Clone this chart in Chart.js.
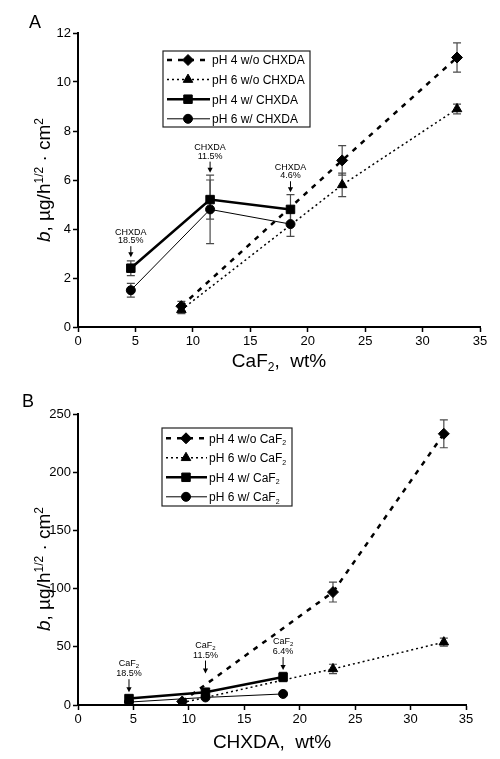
<!DOCTYPE html>
<html lang="en">
<head>
<meta charset="UTF-8">
<title>b vs CaF2 / CHXDA</title>
<script src="https://cdn.jsdelivr.net/npm/chart.js"></script>
<style>
    body { margin: 0; background: #fff; }
    .panel { width: 500px; position: relative; }
    canvas { display: block; }
</style>
</head>
<body>
<div class="panel" style="height:380px"><canvas id="chartA" width="500" height="380"></canvas></div>
<div class="panel" style="height:379px"><canvas id="chartB" width="500" height="379"></canvas></div>

<script>
// ---- panel A : b vs CaF2 wt% ----
const xWoA = [9, 23, 33];
const ph4WoA = [0.85, 6.8, 11.0];
const ph4WoAErr = [0.2, 0.6, 0.6];
const ph6WoA = [0.7, 5.8, 8.9];
const ph6WoAErr = [0.15, 0.48, 0.2];
const xWA = [4.6, 11.5, 18.5];
const ph4WA = [2.4, 5.2, 4.8];
const ph4WAErr = [0.3, 0.8, 0.6];
const ph6WA = [1.5, 4.8, 4.2];
const ph6WAErr = [0.28, 1.4, 0.5];
const labelsA = ['pH 4 w/o CHXDA', 'pH 6 w/o CHXDA', 'pH 4 w/ CHXDA', 'pH 6 w/ CHXDA'];
const noteXA = [4.6, 11.5, 18.5];
const noteTextA = ['18.5%', '11.5%', '4.6%'];

// ---- panel B : b vs CHXDA wt% ----
const xWoB = [9.4, 23, 33];
const ph4WoB = [3, 97, 233];
const ph4WoBErr = [1, 8.5, 12];
const ph6WoB = [2, 31, 54];
const ph6WoBErr = [0.8, 4, 3.5];
const xWB = [4.6, 11.5, 18.5];
const ph4WB = [5.5, 11, 24];
const ph4WBErr = [1, 1.5, 4];
const ph6WB = [2.5, 6.5, 9.5];
const ph6WBErr = [0.5, 1, 1.2];
const labelsB = ['pH 4 w/o CaF₂', 'pH 6 w/o CaF₂', 'pH 4 w/ CaF₂', 'pH 6 w/ CaF₂'];
const noteXB = [4.6, 11.5, 18.5];
const noteTextB = ['18.5%', '11.5%', '6.4%'];

const FONT = '"Liberation Sans", Arial, sans-serif';
const TITLE_FONT = '"Liberation Sans", Arial, sans-serif';

function pts(xs, ys) { return xs.map((x, i) => ({ x: x, y: ys[i] })); }

// text made of pieces: [text, kind] with kind '', 'i', 'sup', 'sub'
function pieceFont(kind, size, fam) {
    if (kind === 'i') return 'italic ' + size + 'px ' + fam;
    if (kind === 'sup' || kind === 'sub') return Math.round(size * 0.62) + 'px ' + fam;
    return size + 'px ' + fam;
}
function drawPieces(ctx, parts, x, y, size, fam, align) {
    let total = 0;
    parts.forEach(p => { ctx.font = pieceFont(p[1], size, fam); total += ctx.measureText(p[0]).width; });
    let cx = align === 'left' ? x : x - total / 2;
    ctx.textAlign = 'left';
    ctx.textBaseline = 'alphabetic';
    parts.forEach(p => {
        ctx.font = pieceFont(p[1], size, fam);
        let dy = 0;
        if (p[1] === 'sup') dy = -size * 0.38;
        if (p[1] === 'sub') dy = size * 0.22;
        ctx.fillText(p[0], cx, y + dy);
        cx += ctx.measureText(p[0]).width;
    });
}

// series styles, same order in both panels
function makeSets(labels, data, errs) {
    const styles = [
        { pointStyle: 'rectRot', pointRadius: 5.5, borderWidth: 2.5, borderDash: [5, 6] },
        { pointStyle: 'triangle', pointRadius: 5.5, borderWidth: 1.5, borderDash: [2, 3] },
        { pointStyle: 'rect', pointRadius: 6, borderWidth: 2.5, borderDash: [] },
        { pointStyle: 'circle', pointRadius: 4.5, borderWidth: 1, borderDash: [] }
    ];
    return labels.map((lab, i) => Object.assign({
        label: lab,
        data: data[i],
        err: errs[i],
        showLine: true,
        tension: 0,
        borderColor: '#000',
        backgroundColor: '#000',
        pointBackgroundColor: '#000',
        pointBorderColor: '#000',
        pointBorderWidth: 1
    }, styles[i]));
}

const decor = {
    id: 'decor',
    beforeDatasetsDraw(chart, args, o) {
        const ctx = chart.ctx, xs = chart.scales.x, ys = chart.scales.y;
        ctx.save();
        ctx.strokeStyle = '#4a4a4a';
        ctx.lineWidth = 1.2;
        chart.data.datasets.forEach(ds => {
            ds.data.forEach((p, i) => {
                const e = ds.err[i];
                const px = xs.getPixelForValue(p.x);
                const y1 = ys.getPixelForValue(p.y - e), y2 = ys.getPixelForValue(p.y + e);
                ctx.beginPath();
                ctx.moveTo(px, y1); ctx.lineTo(px, y2);
                ctx.moveTo(px - 4, y1); ctx.lineTo(px + 4, y1);
                ctx.moveTo(px - 4, y2); ctx.lineTo(px + 4, y2);
                ctx.stroke();
            });
        });
        ctx.restore();
    },
    afterDraw(chart, args, o) {
        const ctx = chart.ctx, xs = chart.scales.x, ys = chart.scales.y, ca = chart.chartArea;
        ctx.save();
        ctx.fillStyle = '#000';
        ctx.strokeStyle = '#000';

        // panel letter
        drawPieces(ctx, [[o.letter, '']], o.letterX, o.letterY, 18, FONT, 'left');

        // axis titles
        drawPieces(ctx, o.xTitle, (ca.left + ca.right) / 2, o.xTitleY, 19, TITLE_FONT, 'center');
        ctx.save();
        ctx.translate(o.yTitleX, o.yTitleY);
        ctx.rotate(-Math.PI / 2);
        drawPieces(ctx, o.yTitle, 0, 0, 19, TITLE_FONT, 'center');
        ctx.restore();

        // arrows with notes
        o.noteX.forEach((nx, i) => {
            const px = xs.getPixelForValue(nx);
            const tip = ys.getPixelForValue(o.noteTip[i]);
            const top = tip - o.arrowLen;
            ctx.lineWidth = 1;
            ctx.beginPath();
            ctx.moveTo(px, top); ctx.lineTo(px, tip - 4);
            ctx.stroke();
            ctx.beginPath();
            ctx.moveTo(px - 2.6, tip - 5); ctx.lineTo(px + 2.6, tip - 5); ctx.lineTo(px, tip);
            ctx.closePath(); ctx.fill();
            const b2 = top - 3;
            drawPieces(ctx, [[o.noteText[i], '']], px, b2, 9, FONT, 'center');
            drawPieces(ctx, o.noteHead, px, b2 - o.noteGap, 9, FONT, 'center');
        });

        // legend box
        const L = o.legend;
        ctx.lineWidth = 1.2;
        ctx.strokeStyle = '#222';
        ctx.strokeRect(L.left, L.top, L.width, L.height);
        chart.data.datasets.forEach((ds, i) => {
            const y = L.firstRow + i * L.rowH;
            ctx.strokeStyle = '#000';
            ctx.lineWidth = ds.borderWidth;
            ctx.setLineDash(ds.borderDash);
            ctx.beginPath();
            ctx.moveTo(L.lineX0, y); ctx.lineTo(L.lineX1, y);
            ctx.stroke();
            ctx.setLineDash([]);
            ctx.lineWidth = 1;
            Chart.helpers.drawPoint(ctx, { pointStyle: ds.pointStyle, radius: ds.pointRadius, rotation: 0, borderWidth: 1 }, L.markX, y);
            const parts = ds.label.indexOf('CaF₂') >= 0
                ? [[ds.label.replace('CaF₂', 'CaF'), ''], ['2', 'sub']]
                : [[ds.label, '']];
            drawPieces(ctx, parts, L.textX, y + 4.3, 12, FONT, 'left');
        });
        ctx.restore();
    }
};

function axis(min, max, step, fitProp, fitVal) {
    return {
        type: 'linear',
        min: min, max: max,
        ticks: { stepSize: step, color: '#000', font: { family: FONT, size: 13 }, padding: 2 },
        grid: { drawOnChartArea: false, drawTicks: true, tickLength: 5, tickWidth: 1.5, tickColor: '#000' },
        border: { display: true, color: '#000', width: 2 },
        afterFit: s => { s[fitProp] = fitVal; }
    };
}

function panel(id, sets, pad, xh, yMax, yStep, deco) {
    return new Chart(document.getElementById(id), {
        type: 'scatter',
        data: { datasets: sets },
        options: {
            responsive: false,
            animation: false,
            events: [],
            layout: { padding: pad },
            scales: {
                x: axis(0, 35, 5, 'height', xh),
                y: axis(0, yMax, yStep, 'width', 78)
            },
            plugins: { legend: { display: false }, tooltip: { enabled: false }, decor: deco }
        },
        plugins: [decor]
    });
}

const yTitle = [['b', 'i'], [', µg/h', ''], ['1/2', 'sup'], [' · cm', ''], ['2', 'sup']];

panel('chartA',
    makeSets(labelsA,
        [pts(xWoA, ph4WoA), pts(xWoA, ph6WoA), pts(xWA, ph4WA), pts(xWA, ph6WA)],
        [ph4WoAErr, ph6WoAErr, ph4WAErr, ph6WAErr]),
    { top: 33, right: 20, left: 0, bottom: 0 }, 53, 12, 2,
    {
        letter: 'A', letterX: 29, letterY: 28,
        xTitle: [['CaF', ''], ['2', 'sub'], [',  wt%', '']], xTitleY: 367,
        yTitle: yTitle, yTitleX: 50, yTitleY: 180,
        noteX: noteXA, noteText: noteTextA, noteHead: [['CHXDA', '']],
        noteTip: [2.85, 6.3, 5.5], arrowLen: 11, noteGap: 8.5,
        legend: { left: 163, top: 51, width: 147, height: 76, firstRow: 60, rowH: 19.6,
                  lineX0: 167, lineX1: 210, markX: 188, textX: 212 }
    });

panel('chartB',
    makeSets(labelsB,
        [pts(xWoB, ph4WoB), pts(xWoB, ph6WoB), pts(xWB, ph4WB), pts(xWB, ph6WB)],
        [ph4WoBErr, ph6WoBErr, ph4WBErr, ph6WBErr]),
    { top: 34, right: 34, left: 0, bottom: 0 }, 54, 250, 50,
    {
        letter: 'B', letterX: 22, letterY: 27,
        xTitle: [['CHXDA,  wt%', '']], xTitleY: 368,
        yTitle: yTitle, yTitleX: 50, yTitleY: 189,
        noteX: noteXB, noteText: noteTextB, noteHead: [['CaF', ''], ['2', 'sub']],
        noteTip: [11, 27, 30], arrowLen: 13, noteGap: 10,
        legend: { left: 162, top: 48, width: 130, height: 78, firstRow: 58.3, rowH: 19.5,
                  lineX0: 166, lineX1: 207, markX: 186, textX: 209 }
    });
</script>
</body>
</html>
